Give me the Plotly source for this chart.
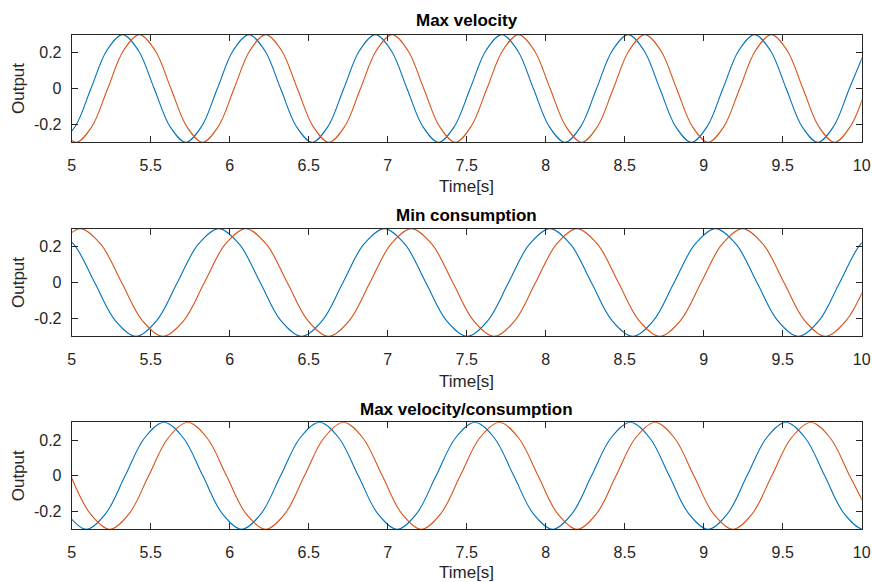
import plotly.graph_objects as go

# ---------------- data ----------------
titles = ["Max velocity", "Min consumption", "Max velocity/consumption"]
x_label = "Time[s]"
y_label = "Output"
x_tickvals = [5, 5.5, 6, 6.5, 7, 7.5, 8, 8.5, 9, 9.5, 10]
x_ticktext = ["5", "5.5", "6", "6.5", "7", "7.5", "8", "8.5", "9", "9.5", "10"]
y_tickvals = [-0.2, 0, 0.2]
y_ticktext = ["-0.2", "0", "0.2"]

# Subplot 1 - Max velocity
t1_blue = [4.922, 5.022, 5.122, 5.222, 5.322, 5.422, 5.522, 5.622, 5.722, 5.822,
           5.922, 6.022, 6.122, 6.222, 6.322, 6.422, 6.522, 6.622, 6.722, 6.822,
           6.922, 7.022, 7.122, 7.222, 7.322, 7.422, 7.522, 7.622, 7.722, 7.822,
           7.922, 8.022, 8.122, 8.222, 8.322, 8.422, 8.522, 8.622, 8.722, 8.822,
           8.922, 9.022, 9.122, 9.222, 9.322, 9.422, 9.522, 9.622, 9.722, 9.822,
           9.922, 10.022]
y1_blue = [-0.3, -0.212, 0, 0.212, 0.3, 0.212, 0, -0.212,
           -0.3, -0.212, 0, 0.212, 0.3, 0.212, 0, -0.212,
           -0.3, -0.212, 0, 0.212, 0.3, 0.212, 0, -0.212,
           -0.3, -0.212, 0, 0.212, 0.3, 0.212, 0, -0.212,
           -0.3, -0.212, 0, 0.212, 0.3, 0.212, 0, -0.212,
           -0.3, -0.212, 0, 0.212, 0.3, 0.212, 0, -0.212,
           -0.3, -0.212, 0, 0.212]
t1_orange = [4.928, 5.028, 5.128, 5.228, 5.328, 5.428, 5.528, 5.628, 5.728, 5.828,
             5.928, 6.028, 6.128, 6.228, 6.328, 6.428, 6.528, 6.628, 6.728, 6.828,
             6.928, 7.028, 7.128, 7.228, 7.328, 7.428, 7.528, 7.628, 7.728, 7.828,
             7.928, 8.028, 8.128, 8.228, 8.328, 8.428, 8.528, 8.628, 8.728, 8.828,
             8.928, 9.028, 9.128, 9.228, 9.328, 9.428, 9.528, 9.628, 9.728, 9.828,
             9.928, 10.028]
y1_orange = [-0.212, -0.3, -0.212, 0, 0.212, 0.3, 0.212, 0,
             -0.212, -0.3, -0.212, 0, 0.212, 0.3, 0.212, 0,
             -0.212, -0.3, -0.212, 0, 0.212, 0.3, 0.212, 0,
             -0.212, -0.3, -0.212, 0, 0.212, 0.3, 0.212, 0,
             -0.212, -0.3, -0.212, 0, 0.212, 0.3, 0.212, 0,
             -0.212, -0.3, -0.212, 0, 0.212, 0.3, 0.212, 0,
             -0.212, -0.3, -0.212, 0]

# Subplot 2 - Min consumption
t2_blue = [4.883, 5.014, 5.145, 5.276, 5.407, 5.538, 5.669, 5.800, 5.931, 6.062,
           6.193, 6.324, 6.455, 6.586, 6.717, 6.848, 6.979, 7.110, 7.241, 7.372,
           7.503, 7.634, 7.765, 7.896, 8.027, 8.158, 8.289, 8.420, 8.551, 8.682,
           8.813, 8.944, 9.075, 9.206, 9.337, 9.468, 9.599, 9.730, 9.861, 9.992,
           10.123]
y2_blue = [0.3, 0.212, 0, -0.212, -0.3, -0.212, 0, 0.212,
           0.3, 0.212, 0, -0.212, -0.3, -0.212, 0, 0.212,
           0.3, 0.212, 0, -0.212, -0.3, -0.212, 0, 0.212,
           0.3, 0.212, 0, -0.212, -0.3, -0.212, 0, 0.212,
           0.3, 0.212, 0, -0.212, -0.3, -0.212, 0, 0.212,
           0.3]
t2_orange = [4.923, 5.054, 5.185, 5.316, 5.447, 5.578, 5.709, 5.840, 5.971, 6.102,
             6.233, 6.364, 6.495, 6.626, 6.757, 6.888, 7.019, 7.150, 7.281, 7.412,
             7.543, 7.674, 7.805, 7.936, 8.067, 8.198, 8.329, 8.460, 8.591, 8.722,
             8.853, 8.984, 9.115, 9.246, 9.377, 9.508, 9.639, 9.770, 9.901, 10.032]
y2_orange = [0.212, 0.3, 0.212, 0, -0.212, -0.3, -0.212, 0,
             0.212, 0.3, 0.212, 0, -0.212, -0.3, -0.212, 0,
             0.212, 0.3, 0.212, 0, -0.212, -0.3, -0.212, 0,
             0.212, 0.3, 0.212, 0, -0.212, -0.3, -0.212, 0,
             0.212, 0.3, 0.212, 0, -0.212, -0.3, -0.212, 0]

# Subplot 3 - Max velocity/consumption
t3_blue = [4.969, 5.092, 5.215, 5.338, 5.461, 5.584, 5.707, 5.830, 5.953, 6.076,
           6.199, 6.322, 6.445, 6.568, 6.691, 6.814, 6.937, 7.060, 7.183, 7.306,
           7.429, 7.552, 7.675, 7.798, 7.921, 8.044, 8.167, 8.290, 8.413, 8.536,
           8.659, 8.782, 8.905, 9.028, 9.151, 9.274, 9.397, 9.520, 9.643, 9.766,
           9.889, 10.012, 10.135]
y3_blue = [-0.212, -0.3, -0.212, 0, 0.212, 0.3, 0.212, 0,
           -0.212, -0.3, -0.212, 0, 0.212, 0.3, 0.212, 0,
           -0.212, -0.3, -0.212, 0, 0.212, 0.3, 0.212, 0,
           -0.212, -0.3, -0.212, 0, 0.212, 0.3, 0.212, 0,
           -0.212, -0.3, -0.212, 0, 0.212, 0.3, 0.212, 0,
           -0.212, -0.3, -0.212]
t3_orange = [4.994, 5.117, 5.241, 5.364, 5.487, 5.610, 5.734, 5.857, 5.980, 6.103,
             6.227, 6.350, 6.473, 6.596, 6.720, 6.843, 6.966, 7.089, 7.213, 7.336,
             7.459, 7.582, 7.706, 7.829, 7.952, 8.075, 8.199, 8.322, 8.445, 8.568,
             8.692, 8.815, 8.938, 9.061, 9.185, 9.308, 9.431, 9.554, 9.678, 9.801,
             9.924, 10.047]
y3_orange = [0, -0.212, -0.3, -0.212, 0, 0.212, 0.3, 0.212,
             0, -0.212, -0.3, -0.212, 0, 0.212, 0.3, 0.212,
             0, -0.212, -0.3, -0.212, 0, 0.212, 0.3, 0.212,
             0, -0.212, -0.3, -0.212, 0, 0.212, 0.3, 0.212,
             0, -0.212, -0.3, -0.212, 0, 0.212, 0.3, 0.212,
             0, -0.212]

series = [
    (t1_blue, y1_blue, t1_orange, y1_orange),
    (t2_blue, y2_blue, t2_orange, y2_orange),
    (t3_blue, y3_blue, t3_orange, y3_orange),
]

# ---------------- styling ----------------
W, H = 872, 582
BLUE = "#0072BD"
ORANGE = "#D95319"
AXC = "#262626"
FONT = "Liberation Sans, Arial, sans-serif"

x_left, x_right = 71.7, 861.7
boxes = [(34.7, 142.3), (228.7, 336.3), (422.3, 529.3)]  # top, bottom in px
title_y = [21, 215, 409.5]
xlabel_y = [187, 381, 572]

fig = go.Figure()
layout = dict(
    width=W, height=H,
    margin=dict(l=0, r=0, t=0, b=0, autoexpand=False),
    paper_bgcolor="white", plot_bgcolor="white",
    showlegend=False,
    font=dict(family=FONT, color=AXC),
    annotations=[],
)

xd = [x_left / W, x_right / W]
for i, (tb, yb, to, yo) in enumerate(series):
    n = i + 1
    xa = "x" if n == 1 else f"x{n}"
    ya = "y" if n == 1 else f"y{n}"
    fig.add_trace(go.Scatter(x=tb, y=yb, mode="lines", xaxis=xa, yaxis=ya,
                             line=dict(color=BLUE, width=1.1, shape="spline", smoothing=1)))
    fig.add_trace(go.Scatter(x=to, y=yo, mode="lines", xaxis=xa, yaxis=ya,
                             line=dict(color=ORANGE, width=1.1, shape="spline", smoothing=1)))
    top, bot = boxes[i]
    yd = [1 - bot / H, 1 - top / H]
    common = dict(showline=True, linecolor=AXC, linewidth=1, mirror="allticks",
                  ticks="inside", ticklen=6, tickcolor=AXC, tickwidth=1,
                  showgrid=False, zeroline=False, fixedrange=True, automargin=False,
                  tickfont=dict(family=FONT, size=16, color=AXC))
    layout["xaxis" if n == 1 else f"xaxis{n}"] = dict(
        domain=xd, range=[5, 10], anchor=ya,
        tickmode="array", tickvals=x_tickvals, ticktext=x_ticktext,
        ticklabelstandoff=8, **common)
    layout["yaxis" if n == 1 else f"yaxis{n}"] = dict(
        domain=yd, range=[-0.3, 0.3], anchor=xa,
        tickmode="array", tickvals=y_tickvals, ticktext=y_ticktext,
        ticklabelstandoff=6, **common)
    cx = (x_left + x_right) / 2 / W
    layout["annotations"].append(dict(
        text=f"<b>{titles[i]}</b>", x=cx, y=1 - title_y[i] / H, xref="paper", yref="paper",
        xanchor="center", yanchor="middle", showarrow=False,
        font=dict(family=FONT, size=17, color="black")))
    layout["annotations"].append(dict(
        text=x_label, x=cx, y=1 - xlabel_y[i] / H, xref="paper", yref="paper",
        xanchor="center", yanchor="middle", showarrow=False,
        font=dict(family=FONT, size=17, color=AXC)))
    layout["annotations"].append(dict(
        text=y_label, x=18.5 / W, y=1 - (top + bot) / 2 / H, xref="paper", yref="paper",
        xanchor="center", yanchor="middle", showarrow=False, textangle=-90,
        font=dict(family=FONT, size=17, color=AXC)))

fig.update_layout(**layout)
fig.write_html("out.html",
               config={"displayModeBar": False, "staticPlot": True},
               post_script="document.body.style.margin='0';document.body.style.padding='0';")
